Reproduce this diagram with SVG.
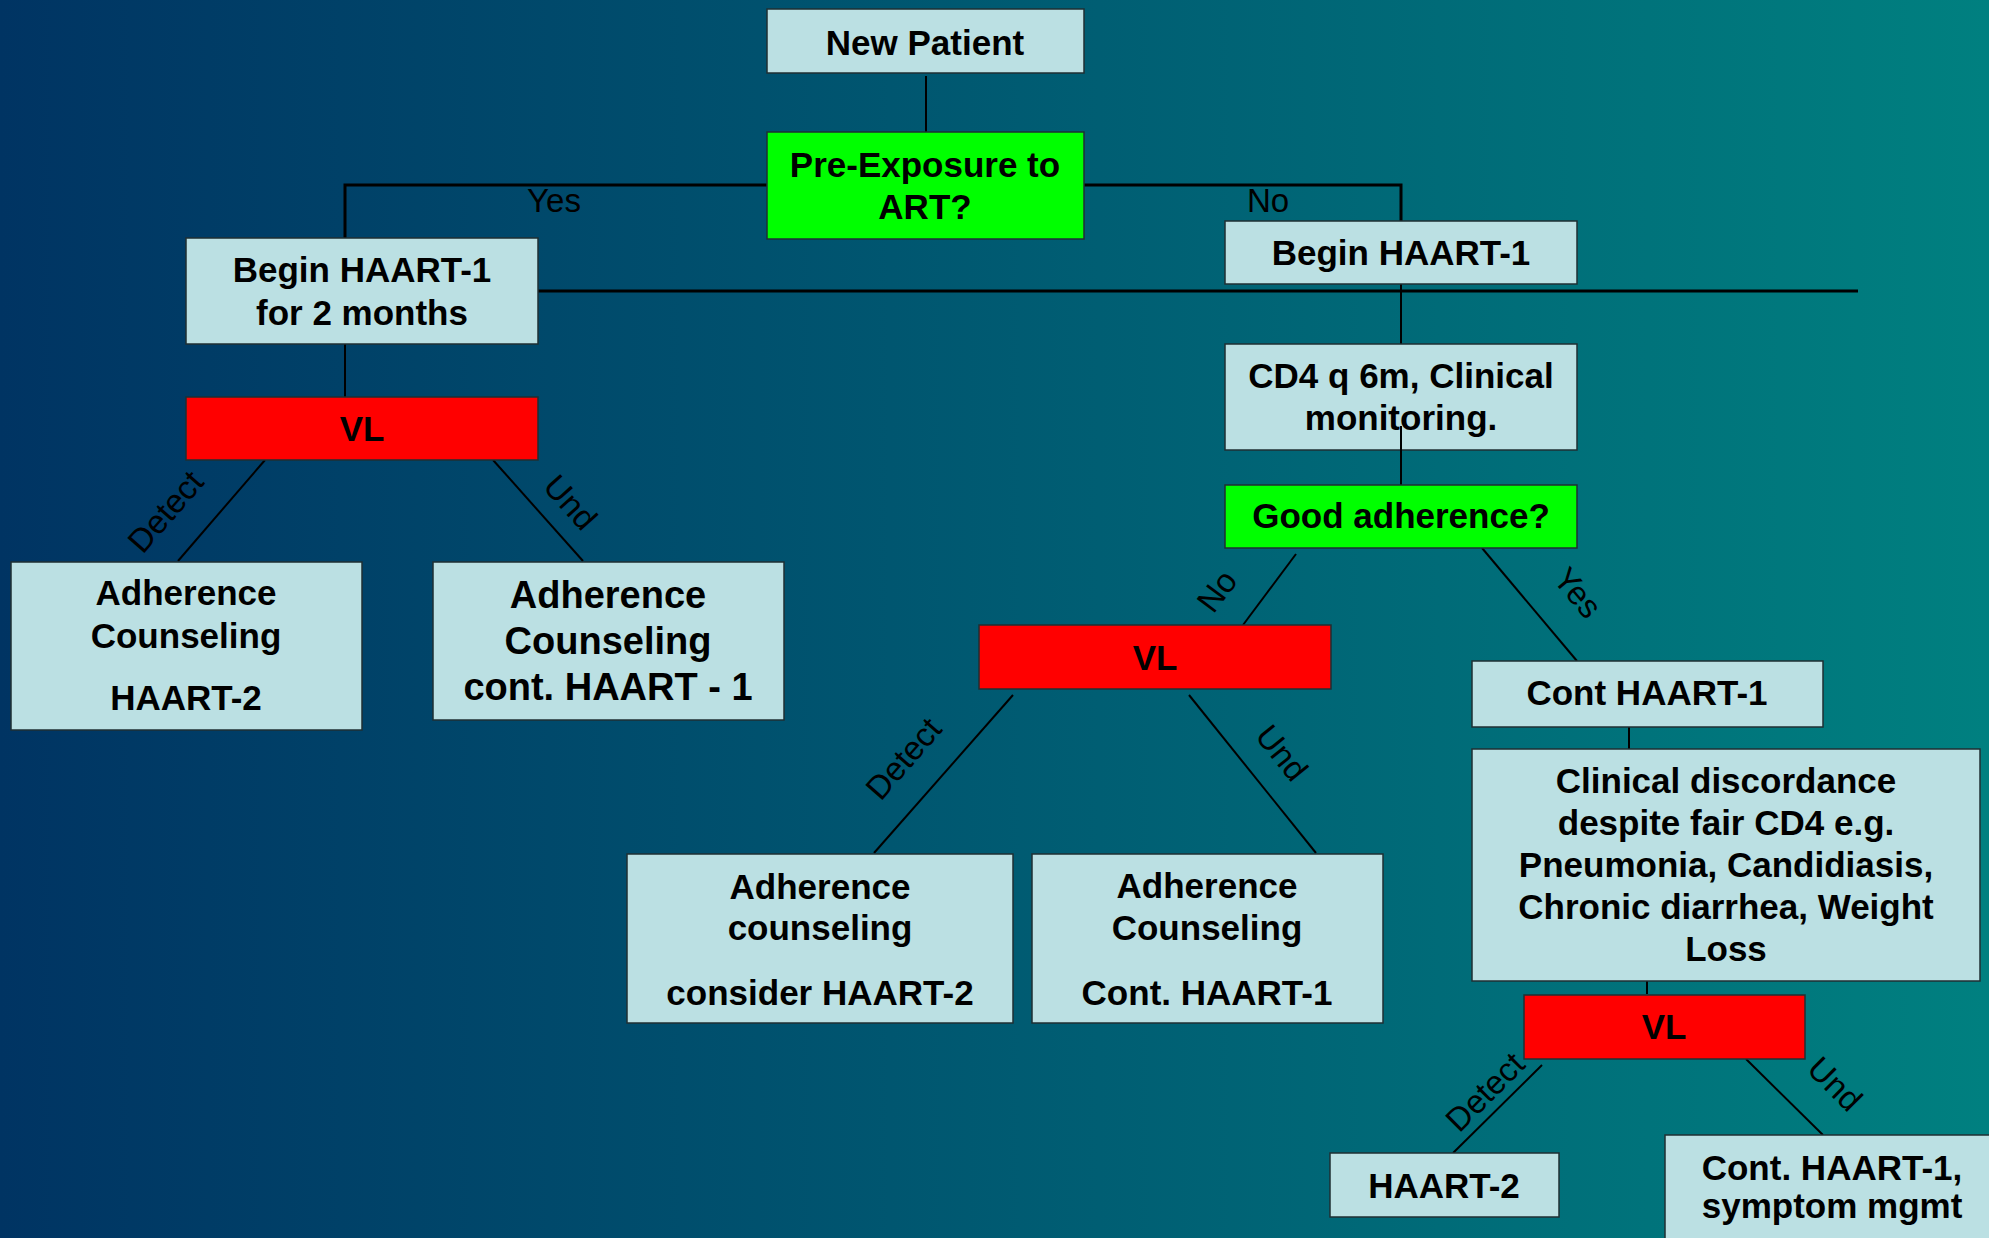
<svg xmlns="http://www.w3.org/2000/svg" width="1989" height="1238" viewBox="0 0 1989 1238">
<defs>
<linearGradient id="bg" x1="0" y1="0" x2="1" y2="0">
<stop offset="0" stop-color="#003463"/>
<stop offset="1" stop-color="#008080"/>
</linearGradient>
<style>
.box{fill:#BBE0E3;stroke:#1F2F33;stroke-width:1.5}
.dec{fill:#00FF00;stroke:#1F2F33;stroke-width:1.5}
.vl{fill:#FF0000;stroke:#1F2F33;stroke-width:1.5}
.t{font-family:"Liberation Sans",Arial,sans-serif;font-weight:bold;font-size:35px;fill:#000;text-anchor:middle}
.big{font-size:38px}
.lbl{font-family:"Liberation Sans",Arial,sans-serif;font-size:33px;fill:#000;text-anchor:middle}
.c{stroke:#000;stroke-width:2;fill:none}
.c3{stroke:#000;stroke-width:3;fill:none}
</style>
</defs>
<rect x="0" y="0" width="1989" height="1238" fill="url(#bg)"/>

<g id="connectors">
<line class="c" x1="926" y1="76" x2="926" y2="132"/>
<polyline class="c3" points="767,185 345,185 345,238"/>
<polyline class="c3" points="1083,185 1401,185 1401,221"/>
<line class="c3" x1="538" y1="291" x2="1858" y2="291"/>
<line class="c" x1="1401" y1="284" x2="1401" y2="344"/>
<line class="c" x1="345" y1="344" x2="345" y2="397"/>
<line class="c" x1="265" y1="460" x2="178" y2="561"/>
<line class="c" x1="493" y1="460" x2="583" y2="561"/>
<line class="c" x1="1296" y1="554" x2="1243" y2="625"/>
<line class="c" x1="1482" y1="548" x2="1577" y2="661"/>
<line class="c" x1="1013" y1="695" x2="874" y2="853"/>
<line class="c" x1="1189" y1="695" x2="1316" y2="853"/>
<line class="c" x1="1629" y1="727" x2="1629" y2="749"/>
<line class="c" x1="1647" y1="981" x2="1647" y2="994"/>
<line class="c" x1="1542" y1="1065" x2="1453" y2="1153"/>
<line class="c" x1="1746" y1="1059" x2="1823" y2="1135"/>
<text class="lbl" x="554" y="212">Yes</text>
<text class="lbl" x="1268" y="212">No</text>
<text class="lbl" transform="translate(174,519) rotate(-49)">Detect</text>
<text class="lbl" transform="translate(562,510) rotate(48)">Und</text>
<text class="lbl" transform="translate(1226,598) rotate(-53)">No</text>
<text class="lbl" transform="translate(1569,600) rotate(50)">Yes</text>
<text class="lbl" transform="translate(912,766) rotate(-49)">Detect</text>
<text class="lbl" transform="translate(1273,760) rotate(51)">Und</text>
<text class="lbl" transform="translate(1493,1100) rotate(-45)">Detect</text>
<text class="lbl" transform="translate(1827,1092) rotate(45)">Und</text>
</g>

<g id="new-patient">
<rect class="box" x="767" y="9" width="317" height="64"/>
<text class="t" x="925" y="55">New Patient</text>
</g>

<g id="pre-exposure">
<rect class="dec" x="767" y="132" width="317" height="107"/>
<text class="t" x="925" y="177">Pre-Exposure to</text>
<text class="t" x="925" y="219">ART?</text>
</g>

<g id="begin-haart-2m">
<rect class="box" x="186" y="238" width="352" height="106"/>
<text class="t" x="362" y="282">Begin HAART-1</text>
<text class="t" x="362" y="325">for 2 months</text>
</g>

<g id="begin-haart-right">
<rect class="box" x="1225" y="221" width="352" height="63"/>
<text class="t" x="1401" y="265">Begin HAART-1</text>
</g>

<g id="vl-left">
<rect class="vl" x="186" y="397" width="352" height="63"/>
<text class="t" x="362" y="441">VL</text>
</g>

<g id="adh-haart2">
<rect class="box" x="11" y="562" width="351" height="168"/>
<text class="t" x="186" y="605">Adherence</text>
<text class="t" x="186" y="648">Counseling</text>
<text class="t" x="186" y="710">HAART-2</text>
</g>

<g id="adh-cont-haart1">
<rect class="box" x="433" y="562" width="351" height="158"/>
<text class="t big" x="608" y="608">Adherence</text>
<text class="t big" x="608" y="654">Counseling</text>
<text class="t big" x="608" y="700">cont. HAART - 1</text>
</g>

<g id="cd4">
<rect class="box" x="1225" y="344" width="352" height="106"/>
<text class="t" x="1401" y="388">CD4 q 6m, Clinical</text>
<text class="t" x="1401" y="430">monitoring.</text>
<line class="c" x1="1401" y1="426" x2="1401" y2="485"/>
</g>

<g id="good-adherence">
<rect class="dec" x="1225" y="485" width="352" height="63"/>
<text class="t" x="1401" y="528">Good adherence?</text>
</g>

<g id="vl-mid">
<rect class="vl" x="979" y="625" width="352" height="64"/>
<text class="t" x="1155" y="670">VL</text>
</g>

<g id="adh-consider-haart2">
<rect class="box" x="627" y="854" width="386" height="169"/>
<text class="t" x="820" y="899">Adherence</text>
<text class="t" x="820" y="940">counseling</text>
<text class="t" x="820" y="1005">consider HAART-2</text>
</g>

<g id="adh-cont-haart1-mid">
<rect class="box" x="1032" y="854" width="351" height="169"/>
<text class="t" x="1207" y="898">Adherence</text>
<text class="t" x="1207" y="940">Counseling</text>
<text class="t" x="1207" y="1005">Cont. HAART-1</text>
</g>

<g id="cont-haart1">
<rect class="box" x="1472" y="661" width="351" height="66"/>
<text class="t" x="1647" y="705">Cont HAART-1</text>
</g>

<g id="clinical-discordance">
<rect class="box" x="1472" y="749" width="508" height="232"/>
<text class="t" x="1726" y="793">Clinical discordance</text>
<text class="t" x="1726" y="835">despite fair CD4 e.g.</text>
<text class="t" x="1726" y="877">Pneumonia, Candidiasis,</text>
<text class="t" x="1726" y="919">Chronic diarrhea, Weight</text>
<text class="t" x="1726" y="961">Loss</text>
</g>

<g id="vl-bottom">
<rect class="vl" x="1524" y="995" width="281" height="64"/>
<text class="t" x="1664" y="1039">VL</text>
</g>

<g id="haart2">
<rect class="box" x="1330" y="1153" width="229" height="64"/>
<text class="t" x="1444" y="1198">HAART-2</text>
</g>

<g id="cont-haart1-symptom">
<rect class="box" x="1665" y="1135" width="340" height="120"/>
<text class="t" x="1832" y="1180">Cont. HAART-1,</text>
<text class="t" x="1832" y="1218">symptom mgmt</text>
</g>
</svg>
